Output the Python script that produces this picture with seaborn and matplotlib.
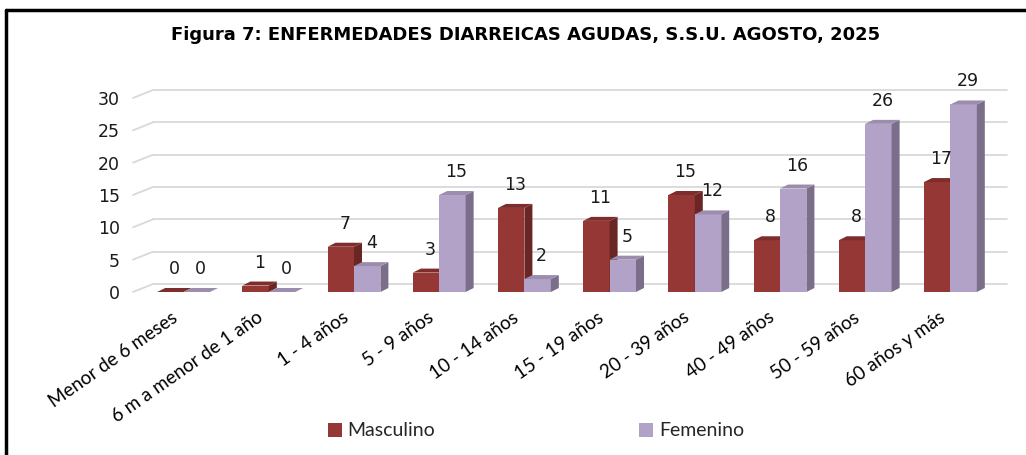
import pandas as pd
import seaborn as sns
import matplotlib.pyplot as plt
from matplotlib.patches import Polygon, Patch
from matplotlib.lines import Line2D
from matplotlib.transforms import ScaledTranslation

# datos de la figura
categorias = ["Menor de 6 meses", "6 m a menor de 1 año", "1 - 4 años", "5 - 9 años",
              "10 - 14 años", "15 - 19 años", "20 - 39 años", "40 - 49 años",
              "50 - 59 años", "60 años y más"]
masculino = [0, 1, 7, 3, 13, 11, 15, 8, 8, 17]
femenino = [0, 0, 4, 15, 2, 5, 12, 16, 26, 29]
series = ["Masculino", "Femenino"]
y_ticks = [0, 5, 10, 15, 20, 25, 30]

df = pd.DataFrame({
    "grupo": categorias * 2,
    "casos": masculino + femenino,
    "sexo": [series[0]] * len(categorias) + [series[1]] * len(categorias),
})

col_front = {"Masculino": "#953735", "Femenino": "#B3A2C7"}
col_side = {"Masculino": "#6A2624", "Femenino": "#7B6E8A"}
col_top = {"Masculino": "#7D2D2B", "Femenino": "#9C8DAE"}

sns.set_style("white")
W, H = 1026, 455
fig = plt.figure(figsize=(W / 100, H / 100), dpi=100)
ax_l, ax_r, ax_b, ax_t = 141, 993, 292, 98
ax = fig.add_axes([ax_l / W, (H - ax_b) / H, (ax_r - ax_l) / W, (ax_b - ax_t) / H])

sns.barplot(data=df, x="grupo", y="casos", hue="sexo", hue_order=series,
            palette=[col_front[s] for s in series], width=0.62, gap=0,
            saturation=1, legend=False, ax=ax, linewidth=0)
ax.set_xlim(-0.5, len(categorias) - 0.5)
ax.set_ylim(0, 30)

# pixel -> data units
sx = len(categorias) / (ax_r - ax_l)
sy = 30 / (ax_b - ax_t)
dx, dy = 8 * sx, 4 * sy

# fake 3d faces + labels, derived from the bars seaborn drew
bars = [p for p in ax.patches]
n = len(categorias)
for i, p in enumerate(bars):
    s = series[i // n]
    z = 3 if s == "Masculino" else 4
    p.set_zorder(z)
    x0, w, h = p.get_x(), p.get_width(), p.get_height()
    side = [(x0 + w, 0), (x0 + w + dx, dy), (x0 + w + dx, h + dy), (x0 + w, h)]
    top = [(x0, h), (x0 + dx, h + dy), (x0 + w + dx, h + dy), (x0 + w, h)]
    ax.add_patch(Polygon(side, closed=True, fc=col_side[s], ec="none", zorder=z, clip_on=False))
    ax.add_patch(Polygon(top, closed=True, fc=col_top[s], ec="none", zorder=z, clip_on=False))
    ax.text(x0 + w / 2 + dx / 2, h + dy + 10 * sy, f"{h:.0f}", ha="center", va="bottom",
            fontsize=12.5, color="#1a1a1a", family="DejaVu Sans", zorder=6)

# back wall gridlines with the diagonal floor edge
for v in y_ticks:
    ax.add_line(Line2D([-0.5 + 12 * sx, n - 0.5 + 14 * sx], [v + 8 * sy, v + 8 * sy],
                       color="#D9D9D9", lw=1.3, zorder=1, clip_on=False))
    ax.add_line(Line2D([-0.5 - 8 * sx, -0.5 + 12 * sx], [v, v + 8 * sy],
                       color="#D9D9D9", lw=1.3, zorder=1, clip_on=False))

ax.grid(False)
for sp in ax.spines.values():
    sp.set_visible(False)
ax.set_yticks(y_ticks)
ax.set_yticklabels([str(v) for v in y_ticks], fontsize=12.5, color="#1a1a1a", family="DejaVu Sans")
ax.tick_params(axis="y", length=0, pad=15)
ax.tick_params(axis="x", length=0, pad=12)
ax.set_xticks(range(n))
ax.set_xticklabels(categorias, rotation=35, ha="right", rotation_mode="anchor",
                   fontsize=13.5, family="Lato", color="#000000")
shift = ScaledTranslation(-9 / 72, 0, fig.dpi_scale_trans)
for lab in ax.get_xticklabels():
    lab.set_transform(lab.get_transform() + shift)
ax.set_xlabel("")
ax.set_ylabel("")

fig.text(526 / W, 1 - 35 / H, "Figura 7: ENFERMEDADES DIARREICAS AGUDAS, S.S.U. AGOSTO, 2025",
         ha="center", va="center", fontsize=13, fontweight="bold", family="DejaVu Sans",
         color="black")

handles = [Patch(facecolor=col_front[s], edgecolor="none") for s in series]
fig.legend(handles, series, loc="center", bbox_to_anchor=(536 / W, 1 - 431 / H), ncol=2,
           frameon=False, prop={"family": "Lato", "size": 14}, handlelength=0.7,
           handleheight=0.7, handletextpad=0.3, columnspacing=10.5)

# outer frame (left and top edges visible)
fig.add_artist(Line2D([6 / W, 6 / W], [0, 1 - 10 / H], color="black", lw=2.5, transform=fig.transFigure))
fig.add_artist(Line2D([6 / W, 1], [1 - 10 / H, 1 - 10 / H], color="black", lw=2.5, transform=fig.transFigure))

fig.savefig("out.png", dpi=100)
